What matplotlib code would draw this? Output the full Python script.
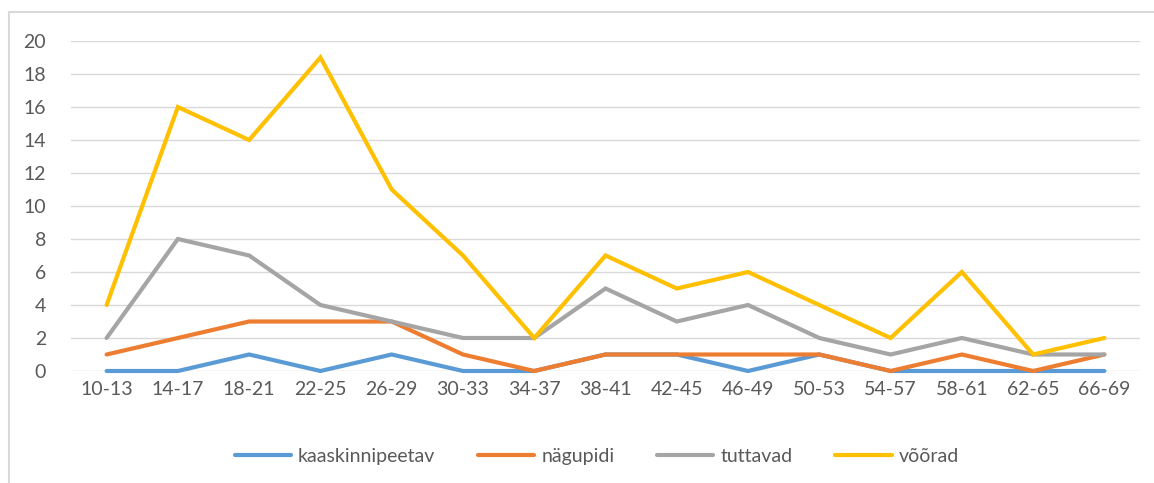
import matplotlib.pyplot as plt
from matplotlib.lines import Line2D

plt.rcParams['font.family'] = ['Lato', 'DejaVu Sans']

categories = ['10-13', '14-17', '18-21', '22-25', '26-29', '30-33', '34-37', '38-41',
              '42-45', '46-49', '50-53', '54-57', '58-61', '62-65', '66-69']
kaaskinnipeetav = [0, 0, 1, 0, 1, 0, 0, 1, 1, 0, 1, 0, 0, 0, 0]
nagupidi = [1, 2, 3, 3, 3, 1, 0, 1, 1, 1, 1, 0, 1, 0, 1]
tuttavad = [2, 8, 7, 4, 3, 2, 2, 5, 3, 4, 2, 1, 2, 1, 1]
vooraad = [4, 16, 14, 19, 11, 7, 2, 7, 5, 6, 4, 2, 6, 1, 2]

series = [('kaaskinnipeetav', kaaskinnipeetav, '#5B9BD5'),
          ('nägupidi', nagupidi, '#ED7D31'),
          ('tuttavad', tuttavad, '#A5A5A5'),
          ('võõrad', vooraad, '#FFC000')]

fig = plt.figure(figsize=(11.54, 4.83), dpi=100)
ax = fig.add_axes([0.0615, 0.2319, 0.9264, 0.6832])

x = list(range(len(categories)))
for name, vals, col in series:
    ax.plot(x, vals, color=col, lw=3, label=name, solid_capstyle='round',
            solid_joinstyle='miter', clip_on=False)

ax.set_xlim(-0.5, len(categories) - 0.5)
ax.set_ylim(0, 20)
ax.set_yticks(range(0, 21, 2))
ax.set_xticks(x)
ax.set_xticklabels(categories)
ax.grid(axis='y', color='#D9D9D9', lw=1)
ax.set_axisbelow(True)
for s in ax.spines.values():
    s.set_visible(False)
ax.tick_params(length=0, labelsize=14, colors='#595959')
ax.tick_params(axis='x', pad=7)
ax.tick_params(axis='y', pad=18)

fig.legend(loc='center', bbox_to_anchor=(0.517, 0.055), ncol=4, frameon=False,
           fontsize=14, labelcolor='#595959', handlelength=2.9, columnspacing=2.2,
           handletextpad=0.35)

# chart frame: only left and top edges are visible
fig.add_artist(Line2D([9 / 1154, 9 / 1154], [0, 1 - 12 / 483], transform=fig.transFigure,
                      color='#D9D9D9', lw=1.5))
fig.add_artist(Line2D([9 / 1154, 1], [1 - 12 / 483, 1 - 12 / 483], transform=fig.transFigure,
                      color='#D9D9D9', lw=1.5))

fig.savefig('out.png', dpi=100)
